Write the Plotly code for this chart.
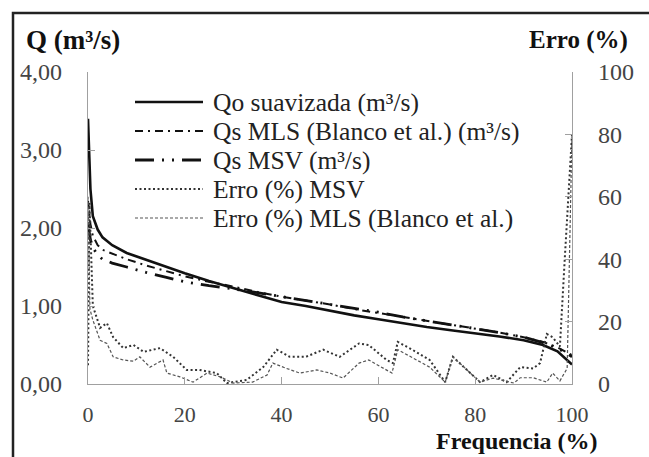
import plotly.graph_objects as go

# ---- data ----
freq_q = [0, 0.5, 1, 2, 3, 5, 8, 12, 16, 20, 25, 30, 35, 40, 45, 50, 55, 60, 65, 70, 75, 80, 85, 90, 94, 97, 100]
q_obs = [3.40, 2.50, 2.15, 1.98, 1.88, 1.78, 1.68, 1.59, 1.50, 1.42, 1.32, 1.23, 1.14, 1.05, 1.00, 0.94, 0.88, 0.83, 0.78, 0.73, 0.69, 0.65, 0.61, 0.56, 0.50, 0.42, 0.25]
q_mls = [2.35, 2.05, 1.90, 1.78, 1.72, 1.67, 1.60, 1.52, 1.45, 1.38, 1.31, 1.25, 1.18, 1.12, 1.07, 1.02, 0.96, 0.91, 0.86, 0.81, 0.76, 0.71, 0.66, 0.60, 0.54, 0.47, 0.37]
q_msv = [2.05, 1.85, 1.75, 1.65, 1.60, 1.55, 1.50, 1.43, 1.37, 1.31, 1.26, 1.22, 1.17, 1.12, 1.07, 1.02, 0.97, 0.92, 0.86, 0.81, 0.76, 0.71, 0.66, 0.60, 0.53, 0.46, 0.35]

freq_e_msv = [0, 0.3, 1, 2.5, 3.9, 5.2, 7.3, 9.4, 11.5, 14.9, 17.6, 20.4, 23, 26.6, 28.7, 32.8, 36.2, 39, 41.7, 45,
              48.6, 52, 56, 58, 61.7, 63, 64, 67, 70.6, 73.8, 75.4, 78.3, 81, 83.7, 86.5, 89.3, 92, 93.4, 94.8, 96,
              97.5, 98.5, 99.3, 100]
erro_msv = [6, 58, 25, 18, 19.5, 15, 11.5, 12.5, 10.3, 11.5, 8.7, 4.5, 4.5, 3.5, 0.3, 1.3, 5.4, 11, 8.7, 8.7,
            11, 8.7, 13, 12.5, 7.7, 6.7, 13.5, 11, 7.7, 0.6, 8.7, 4.5, 0.6, 2.9, 0.6, 5.4, 5, 6.7, 16, 15,
            12, 40, 62, 80]

freq_e_mls = [0, 0.4, 1, 2.5, 3.9, 5.2, 7.3, 9.4, 10.7, 12.8, 15.5, 16.3, 19, 21.7, 24.6, 27.3, 30, 34, 37, 38.2,
              41, 43.8, 47.3, 50, 52.7, 56, 58, 62.8, 64, 70.6, 73.8, 75.4, 81, 83.7, 88, 89.3, 92, 94.8, 96,
              97.5, 99, 99.6, 100]
erro_mls = [60, 24, 20.5, 14, 13, 8.7, 7.7, 7.3, 8.7, 5.4, 7.7, 3.5, 2.3, 0.6, 3.5, 2.3, 0.3, 0.6, 2.9, 6.7,
            5, 3.5, 4.5, 3.5, 1.9, 6.7, 7.7, 3.5, 11, 5.4, 0.6, 8.7, 0.6, 1.9, 0.3, 2, 2, 0.6, 3.5,
            1, 5, 45, 80]

names = ["Qo suavizada (m³/s)", "Qs MLS (Blanco et al.) (m³/s)", "Qs MSV (m³/s)",
         "Erro (%) MSV", "Erro (%) MLS (Blanco et al.)"]

x_ticks = [0, 20, 40, 60, 80, 100]
y_ticks = [0, 1, 2, 3, 4]
y_ticktext = ["0,00", "1,00", "2,00", "3,00", "4,00"]
y2_ticks = [0, 20, 40, 60, 80, 100]

FONT = "Liberation Serif"
styles = [
    dict(color="#111111", width=2.6, dash="solid"),
    dict(color="#111111", width=2.0, dash="8px,5px,2px,5px"),
    dict(color="#111111", width=2.8, dash="19px,8px,2px,8px,2px,8px"),
    dict(color="#333333", width=2.0, dash="2px,2.5px"),
    dict(color="#555555", width=1.2, dash="3px,2px"),
]

fig = go.Figure()
fig.add_trace(go.Scatter(x=freq_q, y=q_obs, mode="lines", name=names[0], line=styles[0]))
fig.add_trace(go.Scatter(x=freq_q, y=q_mls, mode="lines", name=names[1], line=styles[1]))
fig.add_trace(go.Scatter(x=freq_q, y=q_msv, mode="lines", name=names[2], line=styles[2]))
fig.add_trace(go.Scatter(x=freq_e_msv, y=erro_msv, mode="lines", name=names[3], line=styles[3], yaxis="y2"))
fig.add_trace(go.Scatter(x=freq_e_mls, y=erro_mls, mode="lines", name=names[4], line=styles[4], yaxis="y2"))

L, R, T, B = 88, 77, 72, 73
W, H = 649, 457
pw, ph = W - L - R, H - T - B


def px(xp):
    return (xp - L) / pw


def py(yp):
    return (H - B - yp) / ph


# custom legend
shapes = []
annotations = []
rows = [102, 131, 160, 189, 218]
for i, (nm, st) in enumerate(zip(names, styles)):
    shapes.append(dict(type="line", xref="paper", yref="paper",
                       x0=px(135), x1=px(203), y0=py(rows[i]), y1=py(rows[i]),
                       line=dict(color=st["color"], width=st["width"], dash=st["dash"])))
    annotations.append(dict(text=nm, xref="paper", yref="paper", x=px(211), y=py(rows[i]),
                            xanchor="left", yanchor="middle", showarrow=False,
                            font=dict(family=FONT, size=25.5, color="#222222")))

# frame
shapes.append(dict(type="rect", xref="paper", yref="paper",
                   x0=px(13), x1=px(700), y0=py(13), y1=py(500),
                   line=dict(color="#222222", width=2.5), layer="below"))

annotations += [
    dict(text="<b>Q (m³/s)</b>", xref="paper", yref="paper", x=px(24), y=py(40),
         xanchor="left", yanchor="middle", showarrow=False, font=dict(family=FONT, size=27, color="#111")),
    dict(text="<b>Erro (%)</b>", xref="paper", yref="paper", x=px(630), y=py(40),
         xanchor="right", yanchor="middle", showarrow=False, font=dict(family=FONT, size=25, color="#111")),
    dict(text="<b>Frequencia (%)</b>", xref="paper", yref="paper", x=px(599), y=py(441),
         xanchor="right", yanchor="middle", showarrow=False, borderpad=0,
         font=dict(family=FONT, size=24, color="#111")),
]

axis_common = dict(showline=True, linecolor="#a0a0a0", linewidth=1.2, showgrid=False, zeroline=False,
                   ticks="inside", ticklen=7, tickcolor="#a0a0a0", tickwidth=1.2)
tf_y = dict(family=FONT, size=24, color="#444444")
tf_x = dict(family=FONT, size=22, color="#444444")

fig.update_layout(
    width=W, height=H,
    margin=dict(l=L, r=R, t=T, b=B),
    paper_bgcolor="white", plot_bgcolor="white",
    showlegend=False,
    font=dict(family=FONT),
    xaxis=dict(range=[0, 100], tickvals=x_ticks, ticklabelstandoff=10, tickfont=tf_x, **axis_common),
    yaxis=dict(range=[0, 4], tickvals=y_ticks, ticktext=y_ticktext, ticklabelstandoff=20,
               tickfont=tf_y, **axis_common),
    yaxis2=dict(range=[0, 100], tickvals=y2_ticks, overlaying="y", side="right",
                ticklabelstandoff=20, tickfont=tf_y, **axis_common),
    shapes=shapes,
    annotations=annotations,
)

fig.write_html("out.html")
